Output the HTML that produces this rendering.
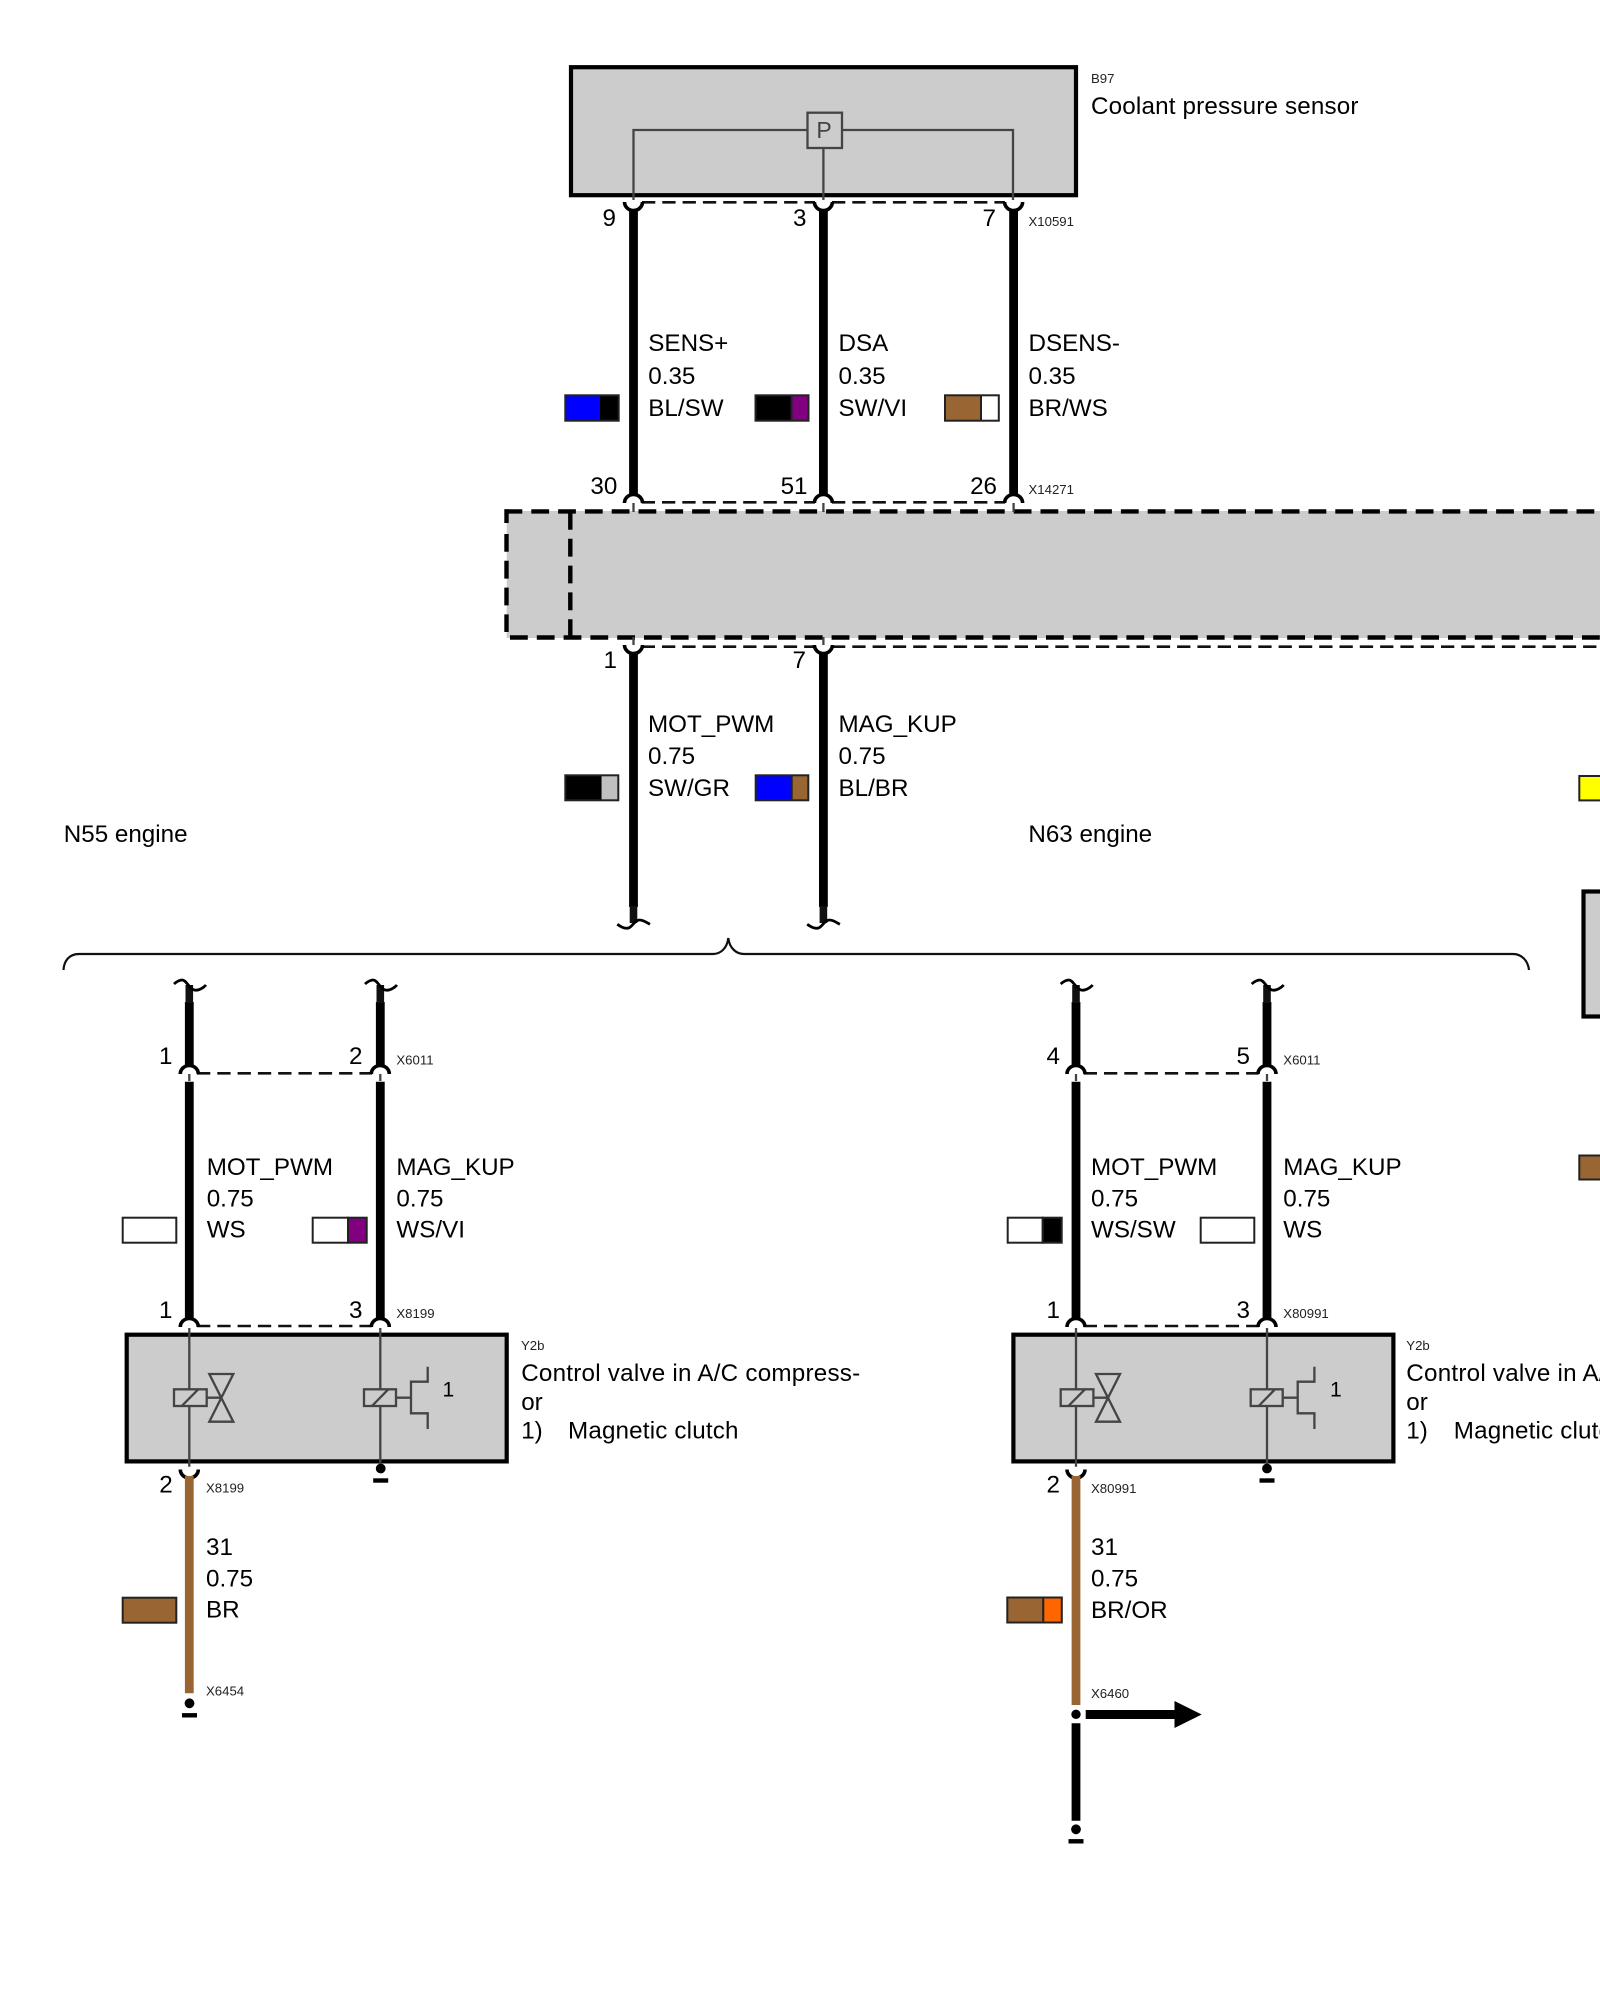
<!DOCTYPE html>
<html><head><meta charset="utf-8"><style>
html,body{margin:0;padding:0;background:#fff}
svg{display:block}
text{font-family:"Liberation Sans",Arial,sans-serif;fill:#000}
.t{font-size:24.2px}.s{font-size:13.2px;fill:#222}
.w{stroke:#000;stroke-width:8.8;fill:none}
.n{stroke:#111;stroke-width:7.6;fill:none}
.a{stroke:#000;stroke-width:3.6;fill:#fff}
.d{stroke:#111;stroke-width:2.6;stroke-dasharray:13.3 7;fill:none}
.l{stroke:#444;stroke-width:2.3;fill:none}
.q{stroke:#000;stroke-width:2.8;fill:none}
.b{stroke:#000;stroke-width:4.2;fill:#ccc}
.h{stroke:#000;stroke-width:4.4;stroke-dasharray:17.8 9;fill:none}
.sw{stroke:#222;stroke-width:2}
</style></head><body>
<svg width="1600" height="2000" viewBox="0 0 1600 2000" xmlns="http://www.w3.org/2000/svg">
<rect width="1600" height="2000" fill="#fff"/>
<defs>
<g id="U"><path d="M-9 0A9 8.500 0 0 0 9 0" class="a"/></g>
<g id="N"><path d="M-9 0A9 8.500 0 0 1 9 0" class="a"/></g>
<g id="qb"><path d="M-16.200 1.300C-12 4.500-8.500 6-5 5-1 4 1-3 6-3 10-3 13-.5 16.500 1.300" class="q"/></g>
<g id="qt"><path d="M-15.300 0C-12-3-9.500-4-7-4-3-4 0 5 5 6 9 7 14 4 16.700 1" class="q"/></g>
<g id="gnd"><circle cx="0" cy="0" r="4.900" fill="#000"/><rect x="-7.500" y="9.800" width="15" height="4.400" fill="#000"/></g>
<g id="valve">
<rect x="126.700" y="1334.700" width="380" height="126.700" class="b"/>
<path d="M189.300 1328V1466.700M380.300 1328V1466.700" class="l"/>
<rect x="174" y="1389.300" width="32.700" height="16.700" class="l" style="fill:#ccc"/>
<path d="M181.700 1406L198.300 1389.300M206.700 1397.700H221.500M209.300 1374H233.300L209.300 1421.700H233.300Z" class="l"/>
<rect x="364" y="1389.300" width="32" height="16.700" class="l" style="fill:#ccc"/>
<path d="M372 1406L388.300 1389.300M396 1397.700H411M427.700 1366.700V1381.700H411V1413.300H427.700V1429" class="l"/>
</g>
</defs>

<!-- B97 -->
<rect x="571" y="67.200" width="505" height="128" class="b"/>
<path d="M633.500 200V130H807M842 130H1013V200M823.400 148V200" class="l"/>
<rect x="807.500" y="112.700" width="34.500" height="35.300" class="l" style="fill:#ccc"/>
<text x="824" y="138" font-size="23" text-anchor="middle" style="fill:#444">P</text>
<text class="s" x="1091" y="83">B97</text>
<text class="t" x="1091" y="114" letter-spacing=".18">Coolant pressure sensor</text>

<path d="M642 202.300H815M832 202.300H1005" class="d"/>
<path d="M633.500 209V494M823.400 209V494M1013.600 209V494" class="w"/>
<use href="#U" x="633.500" y="202"/><use href="#U" x="823.400" y="202"/><use href="#U" x="1013.600" y="202"/>
<text class="t" x="616" y="226" text-anchor="end">9</text>
<text class="t" x="806.500" y="226" text-anchor="end">3</text>
<text class="t" x="996" y="226" text-anchor="end">7</text>
<text class="s" x="1028.500" y="226">X10591</text>

<text class="t" x="648.300" y="351">SENS+</text><text class="t" x="648.300" y="384">0.35</text><text class="t" x="648.300" y="416">BL/SW</text>
<text class="t" x="838.500" y="351">DSA</text><text class="t" x="838.500" y="384">0.35</text><text class="t" x="838.500" y="416">SW/VI</text>
<text class="t" x="1028.500" y="351">DSENS-</text><text class="t" x="1028.500" y="384">0.35</text><text class="t" x="1028.500" y="416">BR/WS</text>

<rect x="565.300" y="395.300" width="35" height="25.400" fill="#00f"/><rect x="600" y="395.300" width="18.700" height="25.400" fill="#000"/><rect x="565.300" y="395.300" width="53.400" height="25.400" class="sw" fill="none"/>
<rect x="755.500" y="395.300" width="36" height="25.400" fill="#000"/><rect x="791.500" y="395.300" width="17" height="25.400" fill="#800080"/><rect x="755.500" y="395.300" width="53" height="25.400" class="sw" fill="none"/><path d="M791.500 395V421" class="sw"/>
<rect x="945" y="395.300" width="36" height="25.400" fill="#963"/><rect x="981" y="395.300" width="17.800" height="25.400" fill="#fff"/><rect x="945" y="395.300" width="53.800" height="25.400" class="sw" fill="none"/><path d="M981 395V421" class="sw"/>

<!-- Dashed box -->
<rect x="506.700" y="511" width="1094" height="127" fill="#ccc"/>
<path d="M504.500 511.400H1600M510 637.500H1600M506.500 534V632M570.300 512V637.500" class="h"/>
<path d="M506.500 509.300V523" stroke="#000" stroke-width="4.400" fill="none"/>
<path d="M641.700 502.300H815M832 502.300H1005" class="d"/>
<path d="M641.700 646.700H815M832 646.700H1600" class="d"/>
<path d="M633.500 503V512M823.400 503V512M1013.600 503V512M633.500 637V646M823.400 637V646" class="l"/>
<use href="#N" x="633.500" y="503"/><use href="#N" x="823.400" y="503"/><use href="#N" x="1013.600" y="503"/>
<use href="#U" x="633.500" y="645"/><use href="#U" x="823.400" y="645"/>
<text class="t" x="617.300" y="494" text-anchor="end">30</text>
<text class="t" x="807.500" y="494" text-anchor="end">51</text>
<text class="t" x="997" y="494" text-anchor="end">26</text>
<text class="s" x="1028.500" y="494">X14271</text>
<text class="t" x="617" y="668" text-anchor="end">1</text>
<text class="t" x="806" y="668" text-anchor="end">7</text>

<path d="M633.500 652V907M823.400 652V907" class="w"/>
<path d="M633.500 906V923M823.400 906V923" class="n"/>
<use href="#qb" x="633.500" y="923"/><use href="#qb" x="823.400" y="923"/>
<text class="t" x="648" y="732">MOT_PWM</text><text class="t" x="648" y="764">0.75</text><text class="t" x="648" y="796">SW/GR</text>
<text class="t" x="838.500" y="732">MAG_KUP</text><text class="t" x="838.500" y="764">0.75</text><text class="t" x="838.500" y="796">BL/BR</text>
<rect x="565.300" y="775.300" width="36.400" height="25" fill="#000"/><rect x="601.700" y="775.300" width="16.600" height="25" fill="#c0c0c0"/><rect x="565.300" y="775.300" width="53" height="25" class="sw" fill="none"/>
<rect x="755.700" y="775.300" width="36" height="25" fill="#00f"/><rect x="791.700" y="775.300" width="16.600" height="25" fill="#963"/><rect x="755.700" y="775.300" width="52.600" height="25" class="sw" fill="none"/><path d="M791.700 775V801" class="sw"/>

<text class="t" x="63.800" y="842">N55 engine</text>
<text class="t" x="1028.400" y="842">N63 engine</text>

<!-- brace -->
<path d="M63.500 970C64 961 69 954 79 954H713C720 954 727 949 728.300 938C729.600 949 737 954 744 954H1513C1522 954 1528 961 1529 970" fill="none" stroke="#111" stroke-width="2.200"/>

<!-- right-edge -->
<rect x="1579.300" y="776" width="30" height="24.400" fill="#ff0" stroke="#222" stroke-width="2"/>
<rect x="1583.500" y="891.500" width="30" height="125" class="b"/>
<rect x="1579.300" y="1155.500" width="30" height="24" fill="#963" stroke="#222" stroke-width="2"/>

<!-- N55 group -->
<path d="M189.300 1002V1066M380.300 1002V1066M189.300 1081.700V1319M380.300 1081.700V1319" class="w"/>
<path d="M189.300 985V1003M380.300 985V1003" class="n"/>
<use href="#qt" x="189.300" y="984"/><use href="#qt" x="380.300" y="984"/>
<path d="M197 1073.300H372M197 1326H372" class="d"/>
<path d="M189.300 1074V1081M380.300 1074V1081" class="l"/>
<use href="#N" x="189.300" y="1074"/><use href="#N" x="380.300" y="1074"/>
<use href="#N" x="189.300" y="1327"/><use href="#N" x="380.300" y="1327"/>
<text class="t" x="172.500" y="1064" text-anchor="end">1</text><text class="t" x="362.500" y="1064" text-anchor="end">2</text>
<text class="s" x="396.400" y="1064.300">X6011</text>
<text class="t" x="206.700" y="1175">MOT_PWM</text><text class="t" x="206.700" y="1206.700">0.75</text><text class="t" x="206.700" y="1237.300">WS</text>
<text class="t" x="396.400" y="1175">MAG_KUP</text><text class="t" x="396.400" y="1206.700">0.75</text><text class="t" x="396.400" y="1237.300">WS/VI</text>
<rect x="122.700" y="1217.700" width="53.600" height="25" fill="#fff" class="sw"/>
<rect x="312.700" y="1217.700" width="35.300" height="25" fill="#fff" class="sw"/><rect x="348" y="1217.700" width="18.700" height="25" fill="#800080" class="sw"/>
<text class="t" x="172.500" y="1318" text-anchor="end">1</text><text class="t" x="362.500" y="1318" text-anchor="end">3</text>
<text class="s" x="396.400" y="1318">X8199</text>

<use href="#valve"/>
<text x="442.500" y="1396.700" font-size="21">1</text>
<text class="s" x="521" y="1350">Y2b</text>
<text class="t" x="521.200" y="1381" letter-spacing=".24">Control valve in A/C compress-</text>
<text class="t" x="521.200" y="1410">or</text>
<text class="t" x="521.200" y="1438.500">1)</text>
<text class="t" x="568" y="1438.500" letter-spacing=".17">Magnetic clutch</text>

<use href="#gnd" x="380.700" y="1468.500"/>
<use href="#U" x="189.300" y="1469.500"/>
<path d="M189.300 1476V1693.300" class="w" style="stroke:#963"/>
<text class="t" x="172.700" y="1492.700" text-anchor="end">2</text>
<text class="s" x="206" y="1492.700">X8199</text>
<text class="t" x="206" y="1555">31</text><text class="t" x="206" y="1586.700">0.75</text><text class="t" x="206" y="1617.300">BR</text>
<rect x="122.700" y="1597.700" width="53.600" height="25" fill="#963" class="sw"/>
<text class="s" x="206" y="1695.700">X6454</text>
<use href="#gnd" x="189.500" y="1703.300"/>

<!-- N63 group -->
<path d="M1076 1002V1066M1267 1002V1066M1076 1081.700V1319M1267 1081.700V1319" class="w"/>
<path d="M1076 985V1003M1267 985V1003" class="n"/>
<use href="#qt" x="1076" y="984"/><use href="#qt" x="1267" y="984"/>
<path d="M1083.700 1073.300H1258.700M1083.700 1326H1258.700" class="d"/>
<path d="M1076 1074V1081M1267 1074V1081" class="l"/>
<use href="#N" x="1076" y="1074"/><use href="#N" x="1267" y="1074"/>
<use href="#N" x="1076" y="1327"/><use href="#N" x="1267" y="1327"/>
<text class="t" x="1060" y="1064" text-anchor="end">4</text><text class="t" x="1250" y="1064" text-anchor="end">5</text>
<text class="s" x="1283.300" y="1064.300">X6011</text>
<text class="t" x="1091" y="1175">MOT_PWM</text><text class="t" x="1091" y="1206.700">0.75</text><text class="t" x="1091" y="1237.300">WS/SW</text>
<text class="t" x="1283.300" y="1175">MAG_KUP</text><text class="t" x="1283.300" y="1206.700">0.75</text><text class="t" x="1283.300" y="1237.300">WS</text>
<rect x="1007.700" y="1217.700" width="35" height="25" fill="#fff" class="sw"/><rect x="1042.700" y="1217.700" width="19" height="25" fill="#000" class="sw"/>
<rect x="1200.700" y="1217.700" width="53.600" height="25" fill="#fff" class="sw"/>
<text class="t" x="1060" y="1318" text-anchor="end">1</text><text class="t" x="1250" y="1318" text-anchor="end">3</text>
<text class="s" x="1283.300" y="1318">X80991</text>

<use href="#valve" x="886.700"/>
<text x="1330" y="1396.700" font-size="21">1</text>
<text class="s" x="1406.300" y="1350">Y2b</text>
<text class="t" x="1406.300" y="1381" letter-spacing=".24">Control valve in A/C compress-</text>
<text class="t" x="1406.300" y="1410">or</text>
<text class="t" x="1406.300" y="1438.500">1)</text>
<text class="t" x="1453.800" y="1438.500" letter-spacing=".17">Magnetic clutch</text>

<use href="#gnd" x="1267" y="1468.500"/>
<use href="#U" x="1076" y="1469.500"/>
<path d="M1076 1476V1705" class="w" style="stroke:#963"/>
<text class="t" x="1060" y="1492.700" text-anchor="end">2</text>
<text class="s" x="1091" y="1492.900">X80991</text>
<text class="t" x="1091" y="1555">31</text><text class="t" x="1091" y="1586.700">0.75</text><text class="t" x="1091" y="1617.900">BR/OR</text>
<rect x="1007.300" y="1597.500" width="36" height="25" fill="#963" class="sw"/><rect x="1043.300" y="1597.500" width="18.500" height="25" fill="#f60" class="sw"/>
<text class="s" x="1091" y="1698">X6460</text>
<circle cx="1076" cy="1714.300" r="4.700" fill="#000"/>
<path d="M1085.700 1714.500H1175" stroke="#000" stroke-width="9" fill="none"/>
<path d="M1174.500 1701L1201.700 1714.500L1174.500 1728Z" fill="#000"/>
<path d="M1076 1723.300V1820.700" class="w"/>
<use href="#gnd" x="1076" y="1829.300"/>
</svg>
</body></html>
